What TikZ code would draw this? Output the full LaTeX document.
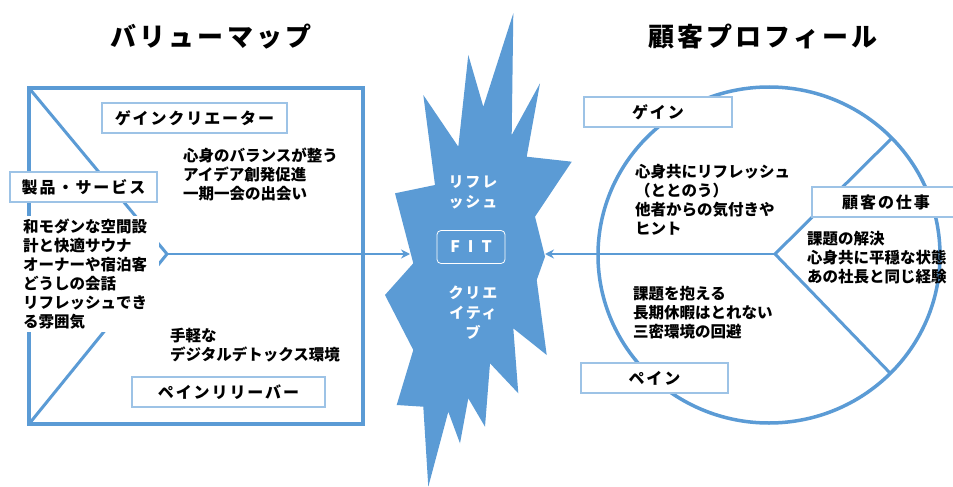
\documentclass[tikz,border=0pt]{standalone}
\usepackage{fontspec}
\usetikzlibrary{arrows.meta}
\newfontfamily\jp{Noto Sans CJK JP}
\newfontfamily\jpls[LetterSpace=12]{Noto Sans CJK JP}
\definecolor{vblue}{HTML}{5B9BD5}
\definecolor{lblue}{HTML}{9DC3E6}
\begin{document}
\begin{tikzpicture}[x=1pt,y=-1pt,
  frame/.style={draw=vblue,line width=3.5pt},
  lbl/.style={draw=lblue,line width=1.3pt,fill=white,font=\jpls\bfseries\fontsize{16}{18}\selectfont,minimum height=30pt,inner sep=0pt},
  body/.style={font=\jp\bfseries\fontsize{15.5}{19}\selectfont,align=left,inner sep=0pt,anchor=west},
  ttl/.style={font=\jpls\bfseries\fontsize{26}{30}\selectfont},
  startxt/.style={font=\jpls\bfseries\fontsize{15}{20}\selectfont,text=white,align=center,inner sep=0pt},
  arr/.style={draw=vblue,line width=2pt,-{Stealth[length=9pt,width=9pt]}}
]
\useasboundingbox (0,0) rectangle (953,487);
\fill[white] (0,0) rectangle (953,487);

% titles
\node[ttl] (t1) at (211,37) {バリューマップ};
\node[ttl] (t2) at (763,37) {顧客プロフィール};

% ---------- value map frame ----------
\coordinate (TL) at (29,88);
\coordinate (TR) at (363,88);
\coordinate (BR) at (363,424);
\coordinate (BL) at (29,424);
\coordinate (chev) at (167,254);
\draw[frame] (TL) -- (TR) -- (BR) -- (BL) -- cycle;
\draw[frame,line width=3pt] (TL) -- (chev) -- (BL);

% ---------- central burst ----------
\fill[vblue] (513.3,13.3) -- (511.7,135) -- (540,83.3) -- (526.7,156.7) -- (571.7,161.7)
  -- (535,216.7) -- (545,256.7) -- (536.7,280) -- (546.7,355) -- (513.3,328.3)
  -- (518.3,393.3) -- (490,363.3) -- (485,426.7) -- (468.3,398.3) -- (460,443.3)
  -- (448.3,411.7) -- (428.3,486.7) -- (423.3,406.7) -- (396.7,405) -- (413.3,350)
  -- (385,295) -- (413.3,263.3) -- (395,193.3) -- (435,185) -- (423.3,95)
  -- (458.3,146.7) -- (468.3,55) -- (483.3,106.7) -- cycle;
\coordinate (starL) at (410,254);
\coordinate (starR) at (545,254);

\draw[arr] (chev) -- (starL);

% ---------- customer profile ----------
\coordinate (cc) at (769,255);
\coordinate (hub) at (775,254);
\coordinate (ru) at (892,138);
\coordinate (rd) at (890,373);
\draw[frame] (cc) ellipse [x radius=171pt, y radius=168pt];
\draw[frame,line width=3pt] (ru) -- (hub) -- (rd);
\draw[arr] (hub) -- (starR);

% ---------- value map labels and texts ----------
\node[lbl,minimum width=185pt] (gc) at (194.5,118) {ゲインクリエーター};
\node[lbl,minimum width=147pt] (ps) at (83.5,187) {製品・サービス};
\node[lbl,minimum width=193pt] (pr) at (228.5,392) {ペインリリーバー};

\node[body] (gctxt) at (183,174) {心身のバランスが整う\\アイデア創発促進\\一期一会の出会い};
\node[body,fill=white,inner sep=3pt,text width=133pt] (pstxt) at (20,274) {和モダンな空間設\\計と快適サウナ\\オーナーや宿泊客\\どうしの会話\\リフレッシュでき\\る雰囲気};
\node[body] (prtxt) at (170,345) {手軽な\\デジタルデトックス環境};

% ---------- burst texts ----------
\node[startxt] (s1) at (473,192) {リフレ\\ッシュ};
\node[draw=white,rounded corners=4pt,line width=0.8pt,minimum width=68pt,minimum height=33pt,
  text=white,font=\jp\bfseries\fontsize{16}{18}\selectfont] (fit) at (471,247) {F\hspace{8pt}I\hspace{8pt}T};
\node[startxt] (s2) at (473,313) {クリエ\\イティ\\ブ};

% ---------- customer profile labels and texts ----------
\node[lbl,minimum width=148pt] (gain) at (658,112) {ゲイン};
\node[lbl,minimum width=148pt] (job) at (886,202) {顧客の仕事};
\node[lbl,minimum width=147pt] (pain) at (654.5,378) {ペイン};

\node[body] (gaintxt) at (635,200) {心身共にリフレッシュ\\（ととのう）\\他者からの気付きや\\ヒント};
\node[body] (jobtxt) at (807,258) {課題の解決\\心身共に平穏な状態\\あの社長と同じ経験};
\node[body] (paintxt) at (633,313) {課題を抱える\\長期休暇はとれない\\三密環境の回避};
\end{tikzpicture}
\end{document}
